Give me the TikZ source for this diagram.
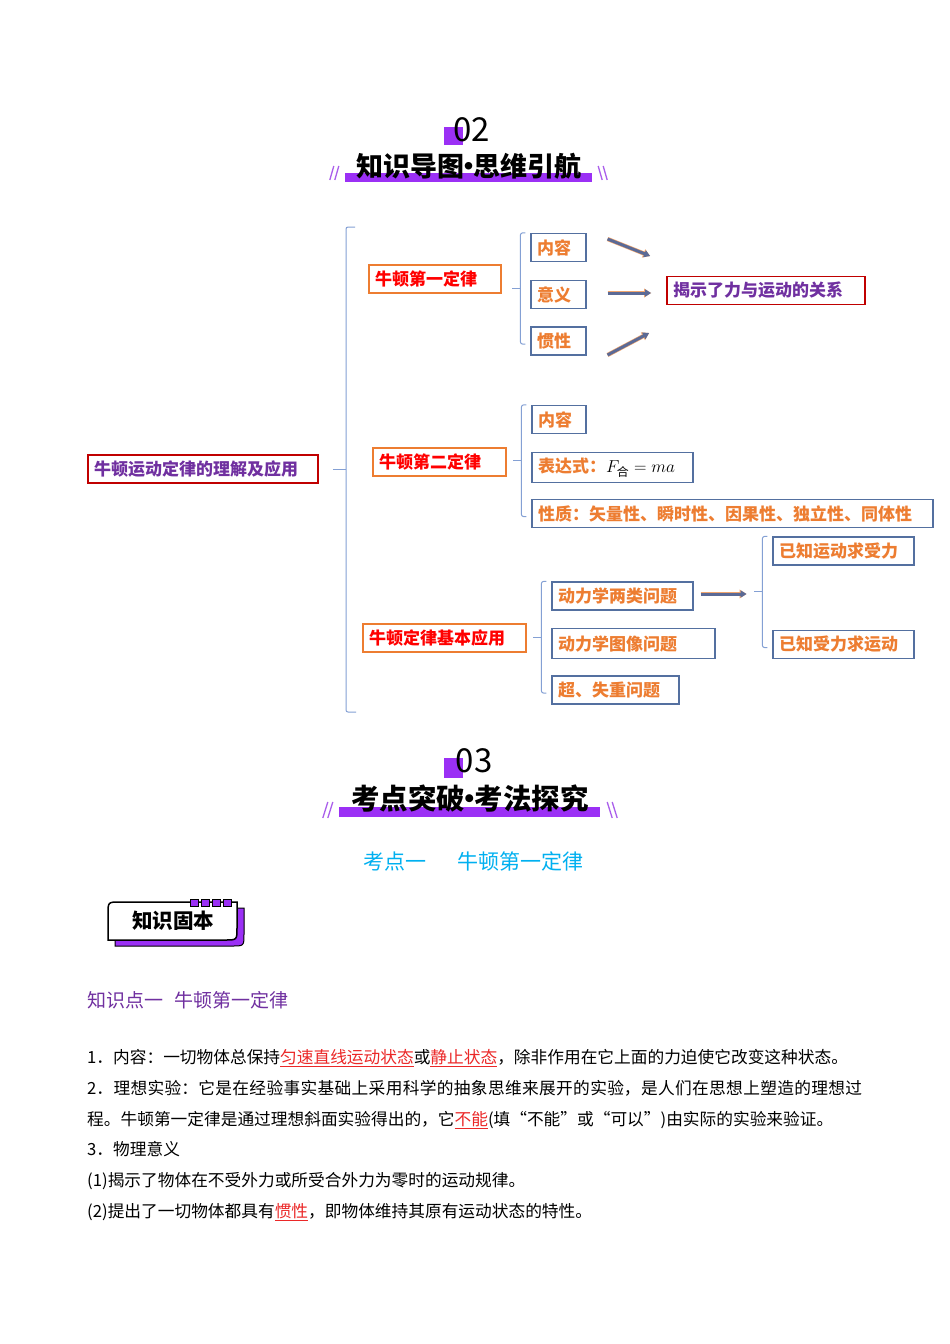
\documentclass[tikz,border=0pt]{standalone}
\usepackage{fontspec}
\setmainfont{Noto Sans CJK SC}
\usepackage{amsmath}
\usetikzlibrary{arrows.meta,positioning,calc}
\usepackage{xcolor}
\definecolor{titlepurple}{RGB}{155,48,245}
\definecolor{slashpurple}{RGB}{170,95,235}
\definecolor{mapblue}{RGB}{84,112,160}
\definecolor{braceblue}{RGB}{132,160,212}
\definecolor{laworange}{RGB}{237,125,49}
\definecolor{leaforange}{RGB}{237,125,49}
\definecolor{lawred}{RGB}{255,0,0}
\definecolor{rootred}{RGB}{192,0,0}
\definecolor{keypurple}{RGB}{112,48,160}
\definecolor{arrowblue}{RGB}{91,106,150}
\definecolor{haloorange}{RGB}{240,165,110}
\definecolor{headcyan}{RGB}{0,176,240}
\definecolor{ulred}{RGB}{235,40,40}
\XeTeXlinebreaklocale "zh"
\XeTeXlinebreakskip=0pt plus 1pt
\newcommand\redul[1]{\textcolor{ulred}{\underline{#1}}}
\newcommand\middot{\hspace{-0.33em}·\hspace{-0.33em}}

\begin{document}
\begin{tikzpicture}[x=1pt,y=-1pt,
  mapbox/.style={draw=mapblue,line width=1.1pt,inner xsep=6pt,inner ysep=0pt,
                 minimum height=28pt,align=left,text=leaforange,
                 font=\fontsize{17}{20}\selectfont\bfseries},
  lawbox/.style={mapbox,draw=laworange,line width=1.8pt,text=lawred},
  keybox/.style={mapbox,draw=rootred,line width=1.8pt,text=keypurple},
  brace/.style={draw=braceblue,line width=1pt,rounded corners=2pt},
  fat/.style={-{Triangle[length=6pt,width=7pt]},draw=arrowblue,line width=3pt,
              preaction={draw=haloorange,line width=4.2pt,-{Triangle[length=7pt,width=8.5pt]}}},
  slab/.style={fill=titlepurple,inner sep=0pt},
  slash/.style={draw=slashpurple,line width=1.3pt},
  bodyline/.style={anchor=base west,inner sep=0pt,font=\fontsize{16.7}{18}\selectfont}
]
  \fill[white] (0,0) rectangle (950,1344);
  \useasboundingbox (0,0) rectangle (950,1344);

  % Section 02 header
  \node[slab,minimum width=19pt,minimum height=18pt] (sq02) at (453.5,136) {};
  \node[font=\fontsize{33}{33}\selectfont] (num02) at (471.5,130) {02};
  \node[slab,minimum width=247pt,minimum height=9pt] (bar02) at (468.5,177.5) {};
  \node[font=\fontsize{27}{27}\selectfont\bfseries] (title02) at (469,166) {知识导图\middot 思维引航};
  \foreach \dx in {-15,-10} \draw[slash] ($(bar02.west)+(\dx,2.5)$) -- ++(4,-14);
  \foreach \dx in {6,11} \draw[slash] ($(bar02.east)+(\dx,-11.5)$) -- ++(4,14);

  % Mind map
  \node[keybox,text width=218pt] (root) at (203,469) {牛顿运动定律的理解及应用};
  \node[lawbox,text width=120pt] (law1) at (435,279) {牛顿第一定律};
  \node[lawbox,text width=121pt] (law2) at (439.5,462) {牛顿第二定律};
  \node[lawbox,text width=151pt] (law3) at (444.5,638) {牛顿定律基本应用};

  \node[mapbox,text width=43pt] (c11) at (558.5,247.5) {内容};
  \node[mapbox,text width=43pt] (c12) at (558.5,294.5) {意义};
  \node[mapbox,text width=43pt] (c13) at (558.5,341) {惯性};
  \node[keybox,text width=186pt] (rel) at (766,290.5) {揭示了力与运动的关系};

  \node[mapbox,text width=42pt] (c21) at (559,419.5) {内容};
  \node[mapbox,text width=149pt,minimum height=30pt] (c22) at (612.5,467.5)
    {表达式：\textcolor{black}{\mdseries$F_{\text{合}}=ma$}};
  \node[mapbox,text width=389pt] (c23) at (732.5,513.5) {性质：矢量性、瞬时性、因果性、独立性、同体性};

  \node[mapbox,text width=129pt] (c31) at (622.5,596) {动力学两类问题};
  \node[mapbox,text width=151pt,minimum height=30pt] (c32) at (633.5,643.5) {动力学图像问题};
  \node[mapbox,text width=115pt] (c33) at (615.5,690) {超、失重问题};

  \node[mapbox,text width=129pt] (d1) at (843.5,551) {已知运动求受力};
  \node[mapbox,text width=129pt] (d2) at (843.5,644.5) {已知受力求运动};

  % Braces
  \coordinate (mtop) at (346,227);
  \coordinate (mbot) at (346,712);
  \draw[brace] ($(mtop)+(9,0)$) -- (mtop) -- (mbot) -- ++(10,0);
  \draw[brace] ($(root.east)+(14,0)$) -- (root.east -| mtop);
  \foreach \a/\b in {c11/c13,c21/c23,c31/c33,d1/d2}{
    \draw[brace] ($(\a.north west)+(-5,0)$) -- ++(-5,0) |- ($(\b.west)+(-5,3)$);
    \draw[brace] ($(\a.north west)!0.5!(\b.west)+(-10,1.5)$) -- ++(-8,0);
  }

  % Arrows
  \draw[fat] ($(c11.east)+(21,-8.5)$) -- ($(rel.west)+(-16,-34.5)$);
  \draw[fat] ($(c12.east)+(21,-1.5)$) -- ($(rel.west)+(-15,2.5)$);
  \draw[fat] ($(c13.east)+(21,14)$) -- ($(rel.west)+(-17,42.5)$);
  \draw[fat] ($(c31.east)+(7,-2)$) -- ++(46,0);

  % Section 03 header
  \node[slab,minimum width=19pt,minimum height=20pt] (sq03) at (453.5,767.5) {};
  \node[font=\fontsize{33}{33}\selectfont] (num03) at (474,760.5) {03};
  \node[slab,minimum width=261pt,minimum height=10pt] (bar03) at (469.5,812) {};
  \node[font=\fontsize{28.5}{28.5}\selectfont\bfseries] (title03) at (470,799) {考点突破\middot 考法探究};
  \foreach \dx in {-16,-11} \draw[slash] ($(bar03.west)+(\dx,6)$) -- ++(5,-16);
  \foreach \dx in {7,12} \draw[slash] ($(bar03.east)+(\dx,-10)$) -- ++(5,16);

  \node[anchor=west,inner sep=0pt,text=headcyan,font=\fontsize{21}{21}\selectfont] (kd1) at (363,861)
    {考点一\hspace{31pt}牛顿第一定律};

  % Badge
  \begin{scope}[shift={(7,6)}]
    \filldraw[fill=titlepurple,draw=black,line width=1pt]
      (108,940) -- (108,914) .. controls (108,902) .. (120,902) -- (237,902)
      -- (237,928) .. controls (237,940) .. (225,940) -- cycle;
  \end{scope}
  \filldraw[fill=white,draw=black,line width=1.5pt]
    (108,940) -- (108,914) .. controls (108,902) .. (120,902) -- (237,902)
    -- (237,928) .. controls (237,940) .. (225,940) -- cycle;
  \foreach \i in {0,...,3}
    \filldraw[fill=titlepurple,draw=black,line width=0.8pt] (190+\i*11,899) rectangle ++(8,7);
  \node[font=\fontsize{20.5}{21}\selectfont\bfseries] (base) at (173,921) {知识固本};

  % Text
  \node[anchor=west,inner sep=0pt,text=keypurple,font=\fontsize{19}{19}\selectfont] (kp1) at (87,1000)
    {知识点一\hspace{11pt}牛顿第一定律};
  \node[bodyline] (l1) at (87,1063) {1．内容：一切物体总保持\redul{匀速直线运动状态}或\redul{静止状态}，除非作用在它上面的力迫使它改变这种状态。};
  \node[bodyline] (l2) at (87,1094) {\parbox[b]{775pt}{\parfillskip=0pt 2．理想实验：它是在经验事实基础上采用科学的抽象思维来展开的实验，是人们在思想上塑造的理想过}};
  \node[bodyline] (l3) at (87,1125) {程。牛顿第一定律是通过理想斜面实验得出的，它\redul{不能}(填“不能”或“可以”)由实际的实验来验证。};
  \node[bodyline] (l4) at (87,1155) {3．物理意义};
  \node[bodyline] (l5) at (87,1186) {(1)揭示了物体在不受外力或所受合外力为零时的运动规律。};
  \node[bodyline] (l6) at (87,1217) {(2)提出了一切物体都具有\redul{惯性}，即物体维持其原有运动状态的特性。};
\end{tikzpicture}
\end{document}
